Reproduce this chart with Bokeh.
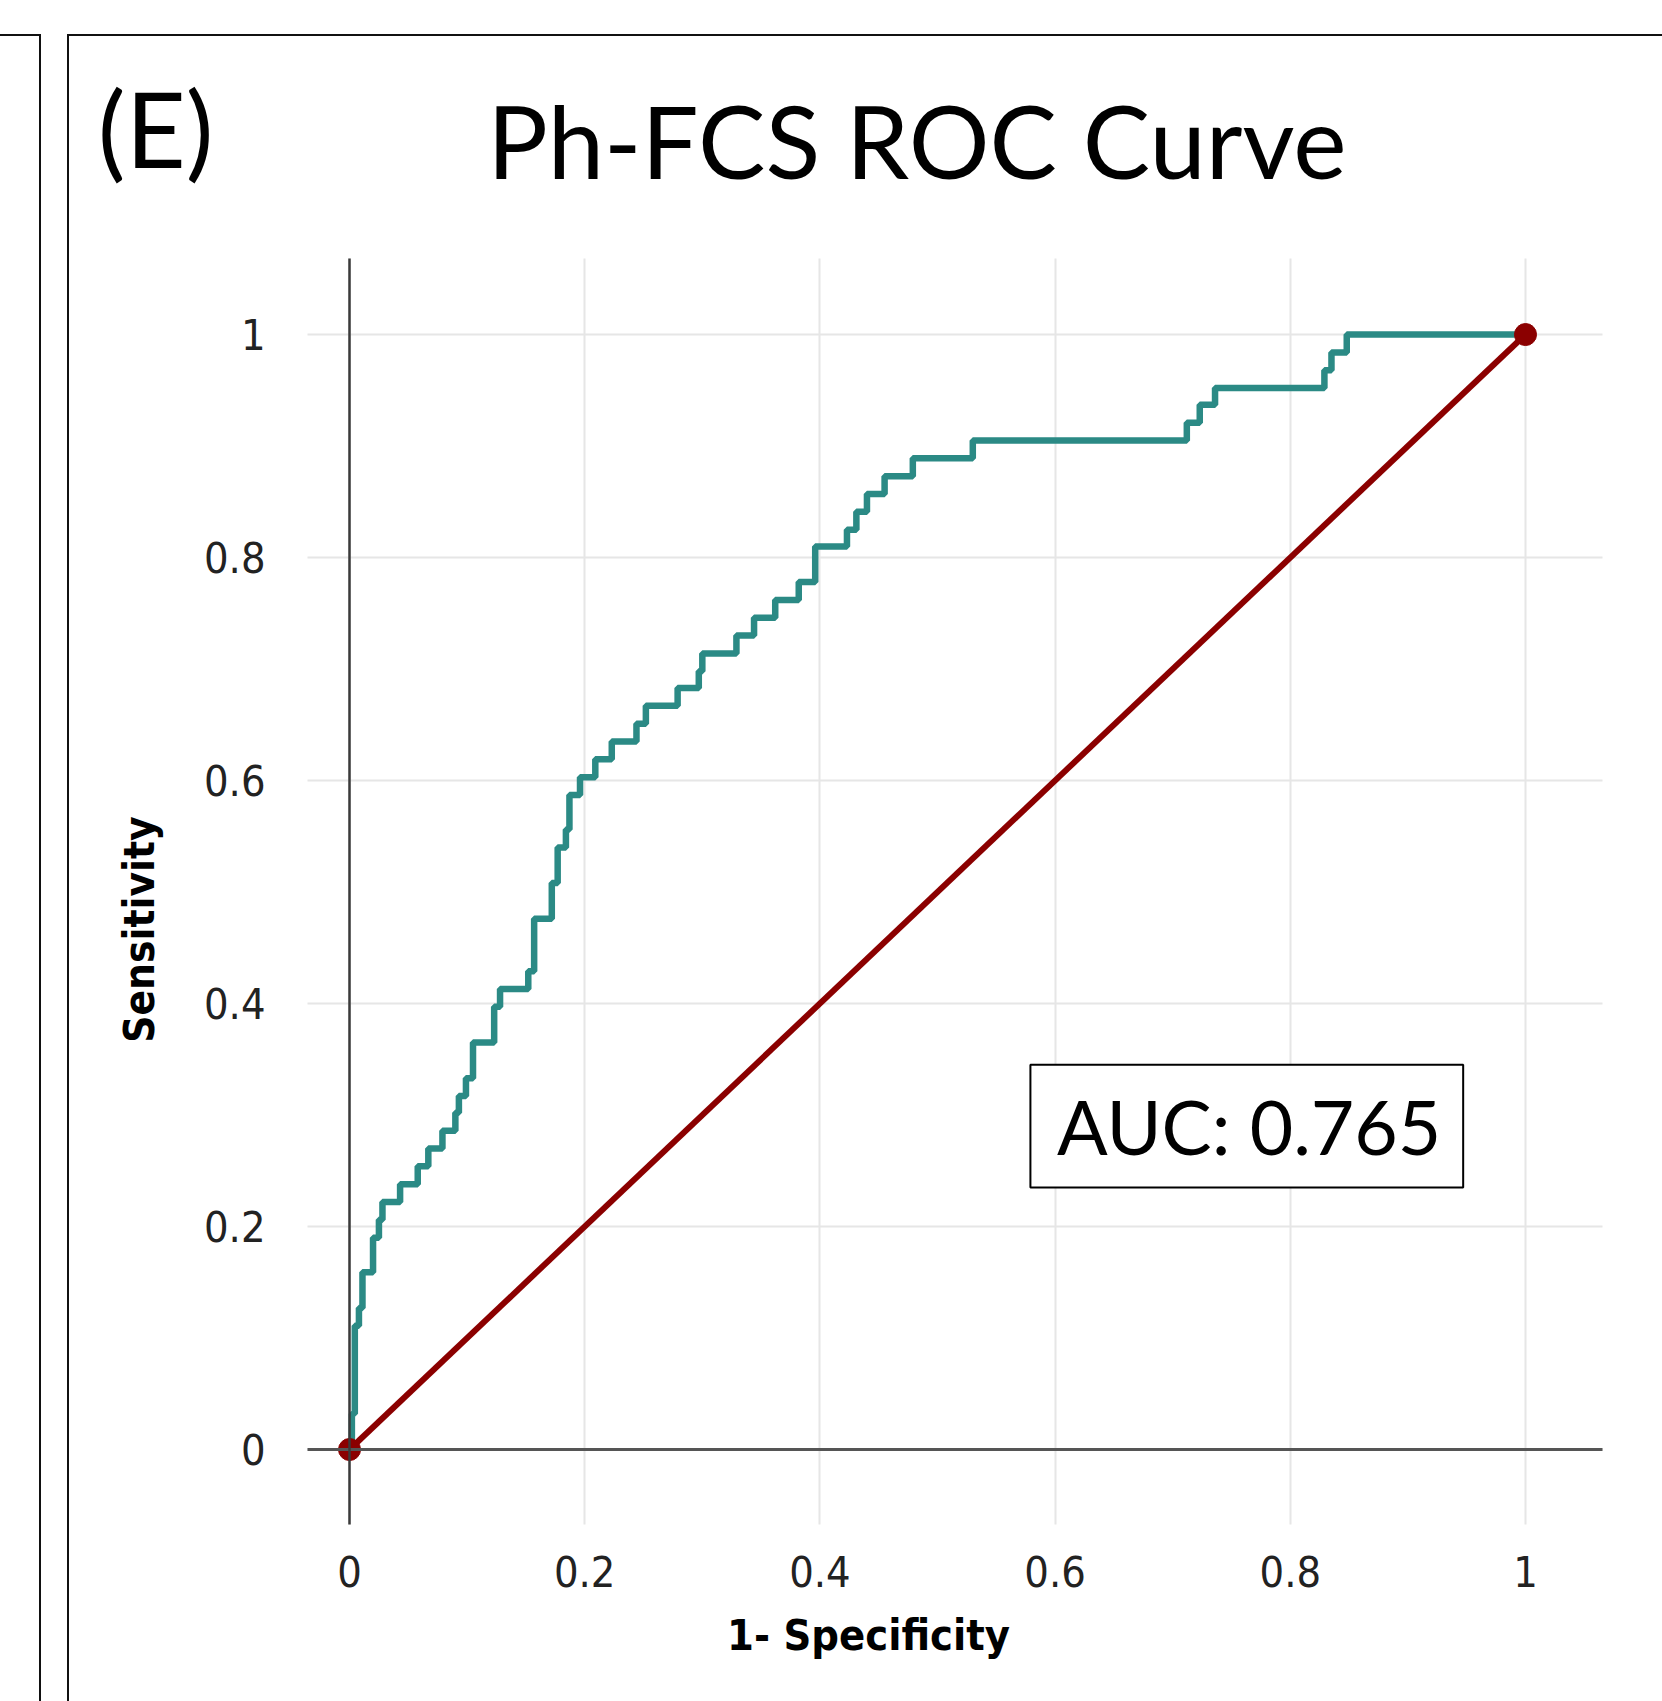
import math
from bokeh.plotting import figure
from bokeh.models import (Range1d, FixedTicker, Label, BoxAnnotation, InlineStyleSheet)
from bokeh.embed import file_html
from bokeh.resources import INLINE

# ---------------- data ----------------
fpr = [0, 0.002, 0.0045, 0.008, 0.011, 0.020, 0.025, 0.028, 0.043, 0.058,
       0.067, 0.079, 0.090, 0.093, 0.099, 0.105, 0.123, 0.128, 0.152, 0.157,
       0.172, 0.177, 0.184, 0.187, 0.196, 0.209, 0.223, 0.244, 0.252, 0.279,
       0.297, 0.300, 0.329, 0.344, 0.362, 0.382, 0.396, 0.423, 0.431, 0.440,
       0.455, 0.479, 0.530, 0.712, 0.723, 0.736, 0.829, 0.835, 0.848, 1.0]
tpr = [0, 0.032, 0.111, 0.127, 0.159, 0.190, 0.206, 0.222, 0.238, 0.254,
       0.270, 0.286, 0.302, 0.317, 0.333, 0.365, 0.397, 0.413, 0.429, 0.476,
       0.508, 0.540, 0.556, 0.587, 0.603, 0.619, 0.635, 0.651, 0.667, 0.683,
       0.698, 0.714, 0.730, 0.746, 0.762, 0.778, 0.810, 0.825, 0.841, 0.857,
       0.873, 0.889, 0.905, 0.921, 0.937, 0.952, 0.968, 0.984, 1.0, 1.0]
ref_x = [0, 1]
ref_y = [0, 1]
tick_vals = [0, 0.2, 0.4, 0.6, 0.8, 1]
tick_labels = ["0", "0.2", "0.4", "0.6", "0.8", "1"]
title_text = "Ph-FCS ROC Curve"
panel_text = "(E)"
auc_text = "AUC: 0.765"
x_title = "1- Specificity"
y_title = "Sensitivity"

# plotting area extents (data units) for grid and axis lines
x_lo, x_hi = -0.036, 1.0655
y_lo, y_hi = -0.067, 1.068

TEAL = "#2b8a85"
DARKRED = "#8b0000"
NARROW = "'Liberation Sans Narrow', 'DejaVu Sans Condensed', 'Liberation Sans', sans-serif"
HEAD = "Lato"

css = """
:host::before { content: ""; position: absolute; left: 67px; top: 34px; right: 0; bottom: 0;
  border-left: 2.5px solid #111; border-top: 2.5px solid #111; pointer-events: none; z-index: 5; }
:host::after { content: ""; position: absolute; left: 0; top: 34px; width: 39px; bottom: 0;
  border-right: 2.5px solid #111; border-top: 2.5px solid #111; pointer-events: none; z-index: 5; }
"""

W, H = 1662, 1701
p = figure(width=W, height=H, output_backend="svg", toolbar_location=None,
           x_range=Range1d(-0.2968, 1.1165), y_range=Range1d(-0.2260, 1.2996),
           min_border=0, stylesheets=[InlineStyleSheet(css=css)])
p.outline_line_color = None
p.background_fill_color = "white"
p.border_fill_color = "white"

for ax in (p.xaxis[0], p.yaxis[0]):
    ax.ticker = FixedTicker(ticks=tick_vals)
    ax.major_label_overrides = dict(zip(tick_vals, tick_labels))
    ax.fixed_location = 0
    ax.major_tick_line_color = None
    ax.minor_tick_line_color = None
    ax.major_tick_out = 0
    ax.major_tick_in = 0
    ax.minor_tick_out = 0
    ax.major_label_text_font = NARROW
    ax.major_label_text_font_size = "43px"
    ax.major_label_text_color = "#222222"

p.xaxis.bounds = (x_lo, x_hi)
p.yaxis.bounds = (y_lo, y_hi)
p.xaxis.axis_line_color = "#555555"
p.xaxis.axis_line_width = 3
p.yaxis.axis_line_color = "#3a3a3a"
p.yaxis.axis_line_width = 2.5
p.xaxis.major_label_standoff = 106
p.yaxis.major_label_standoff = 84

p.xgrid.ticker = FixedTicker(ticks=tick_vals)
p.ygrid.ticker = FixedTicker(ticks=tick_vals)
p.xgrid.cross_bounds = (y_lo, y_hi)
p.ygrid.cross_bounds = (x_lo, x_hi)
p.grid.grid_line_color = "#e6e6e6"
p.grid.grid_line_width = 2

# reference diagonal
p.line(ref_x, ref_y, line_color=DARKRED, line_width=6)
# ROC staircase
p.step(fpr, tpr, mode="after", line_color=TEAL, line_width=6.5)
p.scatter(ref_x, ref_y, size=22, fill_color=DARKRED, line_color=DARKRED)

# AUC box
p.add_layout(BoxAnnotation(left=0.579, right=0.947, bottom=0.235, top=0.345,
                           fill_color="white", fill_alpha=1.0,
                           line_color="black", line_alpha=1.0, line_width=2))
p.add_layout(Label(x=0.765, y=0.290, text=auc_text, text_align="center",
                   text_baseline="middle", text_font=HEAD,
                   text_font_size="75px", text_color="black"))

# titles and axis titles
p.add_layout(Label(x=0.4825, y=1.1749, text=title_text, text_align="center",
                   text_baseline="middle", text_font=HEAD,
                   text_font_size="101px", text_color="black"))
p.add_layout(Label(x=-0.2140, y=1.1857, text=panel_text, text_align="left",
                   text_baseline="middle", text_font=HEAD,
                   text_font_size="104px", text_color="black"))
p.add_layout(Label(x=0.4413, y=-0.1668, text=x_title, text_align="center",
                   text_baseline="middle", text_font=NARROW,
                   text_font_style="bold", text_font_size="43px", text_color="black"))
p.add_layout(Label(x=-0.1786, y=0.4664, text=y_title, text_align="center",
                   text_baseline="middle", angle=math.pi / 2, text_font=NARROW,
                   text_font_style="bold", text_font_size="42px", text_color="black"))

open("out.html", "w").write(file_html(p, INLINE))
